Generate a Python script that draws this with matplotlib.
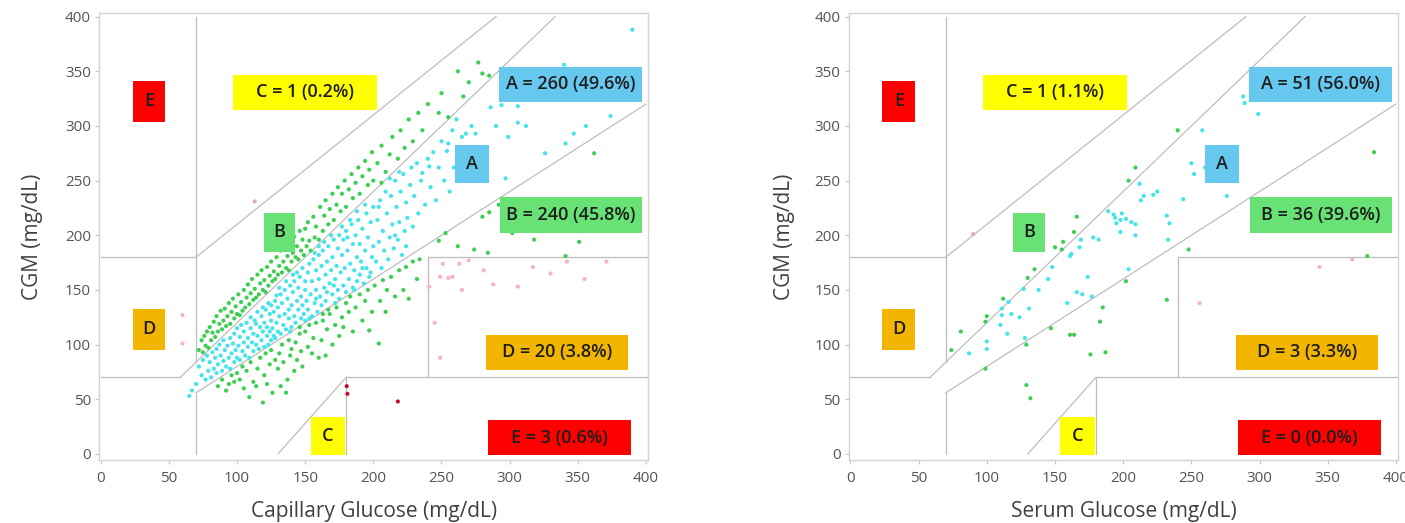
import matplotlib.pyplot as plt
from matplotlib.patches import Rectangle
import numpy as np

plt.rcParams['font.family'] = ['Open Sans', 'DejaVu Sans']

# ---- data: left panel (capillary glucose vs CGM) ----
cap_band = [
    (65,53),(67,58),(70,64),(72,80),(74,72),(75,86),(77,68),(78,90),(79,76),(80,84),
    (81,70),(82,93),(83,78),(84,88),(85,96),(85,74),(86,82),(87,100),(88,90),(89,76),
    (90,85),(90,104),(91,95),(92,80),(93,99),(94,88),(95,106),(95,78),(96,92),(97,101),
    (98,84),(98,110),(99,95),(100,88),(100,115),
    (101,99),(102,107),(102,86),(103,118),(104,94),(105,102),(105,112),(106,90),(107,120),(108,98),
    (108,106),(109,88),(110,115),(110,125),(111,102),(112,94),(112,110),(113,122),(114,100),(115,108),
    (115,130),(116,96),(117,116),(118,104),(118,126),(119,112),(120,98),(120,120),(121,132),(122,108),
    (122,116),(123,100),(124,128),(124,112),(125,122),(125,104),(125,136),(123,138),(119,134),(114,119),
    (126,115),(127,130),(127,108),(128,140),(129,120),(130,112),(130,134),(131,126),(132,146),(132,110),
    (133,138),(134,118),(135,128),(135,150),(136,114),(137,142),(138,124),(138,132),(139,154),(140,116),
    (140,136),(141,148),(142,126),(142,158),(143,120),(144,140),(145,132),(145,152),(146,162),(147,124),
    (147,144),(148,136),(148,170),(149,128),(150,150),(150,158),(150,122),(136,158),(131,152),(129,145),
    (144,166),(141,164),(139,112),(146,116),(128,106),
    (151,140),(152,166),(152,132),(153,174),(154,146),(155,126),(155,158),(156,178),(157,138),(158,150),
    (158,168),(159,130),(160,160),(160,182),(161,144),(162,172),(162,136),(163,186),(164,152),(165,164),
    (165,140),(166,176),(167,132),(167,190),(168,156),(169,168),(170,146),(170,180),(171,196),(172,138),
    (172,160),(173,172),(174,150),(174,188),(175,142),(175,200),(157,184),(163,128),(169,200),(153,124),
    (160,190),(166,148),(171,154),(158,142),(164,194),
    (176,166),(177,182),(178,154),(178,196),(179,170),(180,148),(180,204),(181,186),(182,160),(183,174),
    (184,210),(185,152),(185,192),(186,168),(187,200),(188,158),(188,180),(189,214),(190,164),(190,192),
    (191,176),(192,206),(193,156),(194,186),(195,220),(195,170),(196,198),(197,162),(198,212),(199,180),
    (200,190),(200,226),(183,214),(192,170),(177,208),(186,150),(198,166),(181,198),(194,228),(188,222),
    (202,176),(203,214),(204,194),(205,232),(206,170),(207,204),(208,186),(209,240),(210,220),(211,178),
    (212,198),(213,236),(214,210),(215,188),(216,250),(217,226),(218,196),(219,212),(220,240),(221,182),
    (222,256),(223,204),(224,230),(225,216),(206,248),(212,252),(219,258),(204,226),(216,200),(224,190),
    (227,246),(228,262),(229,208),(230,236),(232,266),(233,220),(235,250),(236,257),(238,228),(240,270),
    (241,263),(242,244),(244,276),(246,232),(248,262),(250,286),(252,250),(254,277),(255,284),(256,240),
    (258,296),(259,262),
    (261,306),(263,270),(265,290),(268,293),(270,256),(272,300),(275,293),(278,280),(282,262),(286,317),
    (290,300),(294,319),(297,252),(299,290),
    (306,318),(312,300),(326,275),(340,356),(341,284),(347,293),(356,300),(374,309),(390,388),
]
cap_upper = [
    (72,95),(74,104),(75,93),(76,108),(77,99),(78,112),(79,97),(80,116),(81,104),(82,111),
    (83,121),(84,107),(85,126),(86,112),(87,119),(88,131),(89,114),(90,122),
    (91,133),(92,117),(93,126),(94,138),(95,119),(96,130),(97,142),(98,124),(99,135),(100,128),
    (101,146),(102,127),(103,139),(104,131),(105,150),(106,134),(107,143),(108,155),(109,137),(110,147),
    (111,160),(112,141),(113,151),(114,143),(115,164),(116,146),(117,156),(118,168),(119,150),(120,159),
    (121,148),(122,171),(123,154),(124,163),(125,176),(126,158),(127,167),(128,160),(129,180),(130,164),
    (131,172),(132,186),(133,166),(134,176),(135,190),(136,170),(137,181),(138,168),(139,194),(140,176),
    (141,184),(142,199),(143,180),(144,190),(145,178),(146,204),(147,186),(148,196),(149,182),(150,206),
    (151,190),(152,212),(153,195),(154,186),(156,217),(157,198),(158,208),(160,196),(161,226),(163,204),
    (164,218),(165,232),(167,210),(168,224),(170,238),(171,214),(173,228),(174,244),
    (176,222),(177,238),(179,250),(180,226),(182,242),(184,256),(185,234),(187,248),(189,262),(190,238),
    (192,254),(194,268),(196,246),(197,260),(199,276),(200,250),
    (203,266),(206,282),(209,258),(212,274),(214,290),(218,270),(220,296),(223,280),(226,306),(229,286),
    (233,312),(236,296),(240,320),(248,312),
    (250,330),(255,308),(262,350),(266,327),(270,340),(277,358),(280,348),(285,346),(306,303),
]
cap_lower = [
    (86,62),(89,68),(92,58),(94,64),(96,72),(98,66),(100,74),(102,68),(104,80),(105,60),
    (107,76),(109,52),(110,84),(112,66),(114,62),(115,78),(117,88),(119,47),(120,72),(121,92),
    (122,64),(124,82),(125,95),(126,56),(128,86),(130,78),
    (131,92),(132,62),(133,100),(134,84),(136,56),(137,68),(138,104),(139,90),(140,96),(142,76),
    (143,102),(144,86),(146,110),(147,94),(148,80),(150,112),(152,98),(153,118),(155,92),(156,106),
    (158,120),(160,88),
    (162,104),(163,122),(165,90),(166,114),(168,128),(170,100),(172,118),(173,134),(175,108),(177,125),
    (178,116),(180,138),(182,130),(183,144),(185,112),(187,134),(190,146),(192,122),(194,140),(196,150),
    (197,113),(199,130),
    (201,154),(204,101),(205,140),(207,159),(209,130),(210,150),(213,162),(216,144),(219,168),(222,150),
    (224,171),(226,142),(229,176),(232,160),(234,178),
    (248,195),(253,202),(262,190),(274,187),(280,217),(284,184),(285,221),(292,228),(302,202),(318,196),
    (341,181),(351,194),(362,275),(330,226),
]
cap_off = [
    (113,231),
    (60,127),(60,101),(241,153),(249,162),(251,174),(255,161),(258,162),(263,174),(270,177),(288,155),
    (306,153),(317,171),(371,176),(249,88),(330,165),(355,160),(265,150),(245,120),(281,168),(342,176),
    (180.5,62),(181,55),(218,48),
]

# ---- data: right panel (serum glucose vs CGM) ----
serum_pts = [
    (90,201),(288,327),(289,321),(299,311),(240,296),(258,296),(384,276),(250,266),(252,256),(209,262),
    (204,250),(212,247),(222,237),(213,232),(244,233),(276,236),(189,222),(193,219),(198,214),(202,215),
    (195,211),(209,210),(198,203),(209,200),(232,218),(234,211),(166,217),(164,203),(169,196),(168,189),
    (182,196),(156,194),(150,189),(155,187),(161,181),(233,196),(248,187),(148,171),(174,162),(204,169),
    (202,158),(135,169),(130,161),(127,151),(166,148),(177,144),(159,138),(112,142),(116,139),(111,133),
    (131,133),(124,125),(111,127),(232,141),(185,134),(183,121),(100,126),(99,121),(81,112),(74,95),
    (87,92),(100,103),(115,110),(128,106),(129,100),(147,115),(161,109),(164,109),(176,91),(187,93),
    (99,78),(129,63),(132,51),(256,138),(344,171),(368,178),(379,181),
    (194,216),(206,212),(199,220),(162,183),(118,128),(138,150),(145,160),(178,198),(225,240),(260,262),
    (100,96),(110,118),(170,146),(215,236),
]

zone_names = ['A', 'B', 'C', 'D', 'E']
cap_counts = [260, 240, 1, 20, 3]
serum_counts = [51, 36, 1, 3, 0]

point_colors = {'A': '#45e4ea', 'B': '#3dcf52', 'C': '#d9b0b0', 'D': '#f5b3c4', 'E': '#c8102e'}
box_colors = {'A': '#66c8ef', 'B': '#68e274', 'C': '#ffff00', 'D': '#f3b600', 'E': '#ff0000'}

# Clarke error grid boundaries
grid_segments = [
    ([0, 175/3], [70, 70]),
    ([175/3, 400/1.2], [70, 400]),
    ([70, 70], [84, 400]),
    ([0, 70], [180, 180]),
    ([70, 290], [180, 400]),
    ([70, 70], [0, 56]),
    ([70, 400], [56, 320]),
    ([180, 180], [0, 70]),
    ([180, 401.5], [70, 70]),
    ([240, 240], [70, 180]),
    ([240, 401.5], [180, 180]),
    ([130, 180], [0, 70]),
]


def clarke_zone(ref, cgm):
    if (ref <= 70 and cgm <= 70) or (0.8*ref <= cgm <= 1.2*ref):
        return 'A'
    if (ref >= 180 and cgm <= 70) or (ref <= 70 and cgm >= 180):
        return 'E'
    if (70 <= ref <= 290 and cgm >= ref + 110) or (130 <= ref <= 180 and cgm <= 1.4*ref - 182):
        return 'C'
    if (ref >= 240 and 70 <= cgm <= 180) or (ref <= 175/3 and 70 <= cgm <= 180) \
            or (175/3 <= ref <= 70 and cgm >= 1.2*ref):
        return 'D'
    return 'B'


def draw_panel(ax, pts, counts, xlabel, ylabel_x):
    pts = np.array(pts, dtype=float)
    zones = [clarke_zone(r, c) for r, c in pts]
    cols = [point_colors[z] for z in zones]
    ax.scatter(pts[:, 0], pts[:, 1], s=9, c=cols, linewidths=0, zorder=2)

    for xs, ys in grid_segments:
        ax.plot(xs, ys, color='#bdbdbd', lw=0.9, zorder=1)

    total = sum(counts)
    summary = {z: '%s = %d (%.1f%%)' % (z, n, 100.0*n/total) for z, n in zip(zone_names, counts)}
    # (x0, x1, y0, y1, zone, text)
    boxes = [
        (23.5, 47.5, 304, 341, 'E', 'E'),
        (97, 203, 315, 347, 'C', summary['C']),
        (292.5, 397, 322, 354, 'A', summary['A']),
        (260, 285, 248, 283, 'A', 'A'),
        (293, 397, 202, 235, 'B', summary['B']),
        (119.5, 142.5, 185, 220.5, 'B', 'B'),
        (23.5, 47.5, 95, 133, 'D', 'D'),
        (282.7, 387, 77, 109, 'D', summary['D']),
        (154, 179, -1, 34, 'C', 'C'),
        (284, 389, -1, 31, 'E', summary['E']),
    ]
    for x0, x1, y0, y1, z, txt in boxes:
        ax.add_patch(Rectangle((x0, y0), x1 - x0, y1 - y0, fc=box_colors[z], ec='none', zorder=3))
        ax.text((x0 + x1)/2, (y0 + y1)/2, txt, ha='center', va='center', fontsize=13,
                fontweight='semibold', color='#1e1e1e', zorder=4)

    ax.set_xlim(-1, 401.5)
    ax.set_ylim(-5.5, 403)
    ax.set_xticks(np.arange(0, 401, 50))
    ax.set_yticks(np.arange(0, 401, 50))
    ax.tick_params(length=3, width=0.8, color='#c8c8c8', labelsize=11, labelcolor='#555555', pad=3)
    ax.tick_params(axis='x', pad=5)
    for sp in ax.spines.values():
        sp.set_color('#d2d2d2')
        sp.set_linewidth(1.0)
    ax.set_xlabel(xlabel, fontsize=15, color='#404040')
    ax.set_ylabel('CGM (mg/dL)', fontsize=15, color='#404040')
    ax.xaxis.set_label_coords(0.5, -0.116)
    ax.xaxis.label.set_va('center')
    ax.yaxis.set_label_coords(ylabel_x, 0.5)
    ax.yaxis.label.set_va('center')


fig = plt.figure(figsize=(14.05, 5.23), dpi=100)
ax1 = fig.add_axes([0.0707, 0.1205, 0.3905, 0.854])
ax2 = fig.add_axes([0.6043, 0.1205, 0.3907, 0.854])

draw_panel(ax1, cap_band + cap_upper + cap_lower + cap_off, cap_counts,
           'Capillary Glucose (mg/dL)', -0.121)
draw_panel(ax2, serum_pts, serum_counts, 'Serum Glucose (mg/dL)', -0.117)

fig.savefig('out.png', dpi=100)
